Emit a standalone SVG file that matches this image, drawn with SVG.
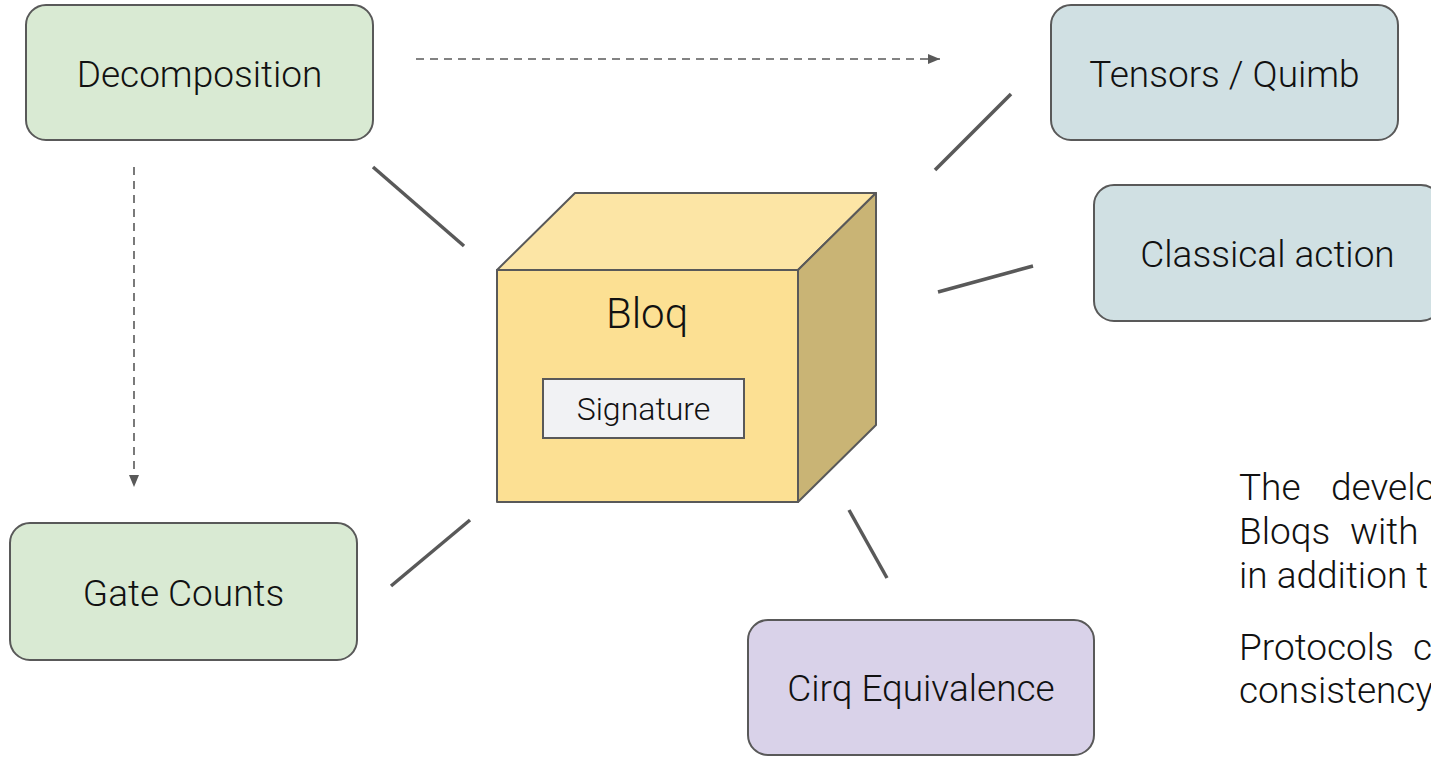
<svg xmlns="http://www.w3.org/2000/svg" width="1431" height="757" viewBox="0 0 1431 757">
  <defs>
    <style>
      .box { stroke: #595959; stroke-width: 2; }
      .green { fill: #d9ead3; }
      .blue { fill: #d0e0e3; }
      .purple { fill: #d9d2e9; }
      .lbl { font-family: Roboto, "Liberation Sans", sans-serif; font-weight: 300; font-size: 37px; fill: #111; text-anchor: middle; }
      .para { font-family: Roboto, "Liberation Sans", sans-serif; font-weight: 300; font-size: 37px; fill: #111; }
      .solid { stroke: #595959; stroke-width: 3.5; fill: none; }
      .dash { stroke: #595959; stroke-width: 1.6; fill: none; stroke-dasharray: 8 6; }
      .cube { stroke: #595959; stroke-width: 2; stroke-linejoin: round; }
    </style>
    <marker id="arr" viewBox="0 0 12 10" refX="12" refY="5" markerWidth="12" markerHeight="10" markerUnits="userSpaceOnUse" orient="auto">
      <path d="M0,0 L12,5 L0,10 Z" fill="#595959"/>
    </marker>
  </defs>
  <rect width="1431" height="757" fill="#ffffff"/>

  <g id="connectors">
    <line class="dash" x1="416" y1="59" x2="940" y2="59" marker-end="url(#arr)"/>
    <line class="dash" x1="134" y1="167" x2="134" y2="487" marker-end="url(#arr)"/>
    <line class="solid" x1="373" y1="167" x2="464" y2="246"/>
    <line class="solid" x1="935" y1="170" x2="1011" y2="94"/>
    <line class="solid" x1="938" y1="292" x2="1033" y2="266"/>
    <line class="solid" x1="391" y1="586" x2="470" y2="520"/>
    <line class="solid" x1="849" y1="510" x2="887" y2="578"/>
  </g>

  <g id="decomposition">
    <rect class="box green" x="26" y="5" width="347" height="135" rx="20"/>
    <text class="lbl" x="199.5" y="87">Decomposition</text>
  </g>

  <g id="tensors">
    <rect class="box blue" x="1051" y="5" width="347" height="135" rx="20"/>
    <text class="lbl" x="1224.5" y="87">Tensors / Quimb</text>
  </g>

  <g id="classical">
    <rect class="box blue" x="1094" y="185" width="347" height="136" rx="20"/>
    <text class="lbl" x="1267.5" y="267">Classical action</text>
  </g>

  <g id="gatecounts">
    <rect class="box green" x="10" y="523" width="347" height="137" rx="20"/>
    <text class="lbl" x="183.5" y="606">Gate Counts</text>
  </g>

  <g id="cirq">
    <rect class="box purple" x="748" y="620" width="346" height="135" rx="20"/>
    <text class="lbl" x="921" y="701">Cirq Equivalence</text>
  </g>

  <g id="bloq">
    <polygon class="cube" points="497,270 575,193 876,193 798,270" fill="#fce5a5"/>
    <polygon class="cube" points="798,270 876,193 876,425 798,502" fill="#c9b475"/>
    <rect class="cube" x="497" y="270" width="301" height="232" fill="#fce093"/>
    <text class="lbl" x="647" y="328" style="font-size:42px">Bloq</text>
    <g id="signature">
      <rect x="543" y="379" width="201" height="59" fill="#f1f2f4" stroke="#595959" stroke-width="2"/>
      <text class="lbl" x="643.5" y="420" style="font-size:32px">Signature</text>
    </g>
  </g>

  <g id="description">
    <text class="para" x="1239" y="500">The</text>
    <text class="para" x="1331" y="500">develo</text>
    <text class="para" x="1239" y="544">Bloqs</text>
    <text class="para" x="1350" y="544">with</text>
    <text class="para" x="1239" y="588">in addition t</text>
    <text class="para" x="1239" y="660">Protocols</text>
    <text class="para" x="1413" y="660">c</text>
    <text class="para" x="1239" y="703">consistency</text>
  </g>
</svg>
